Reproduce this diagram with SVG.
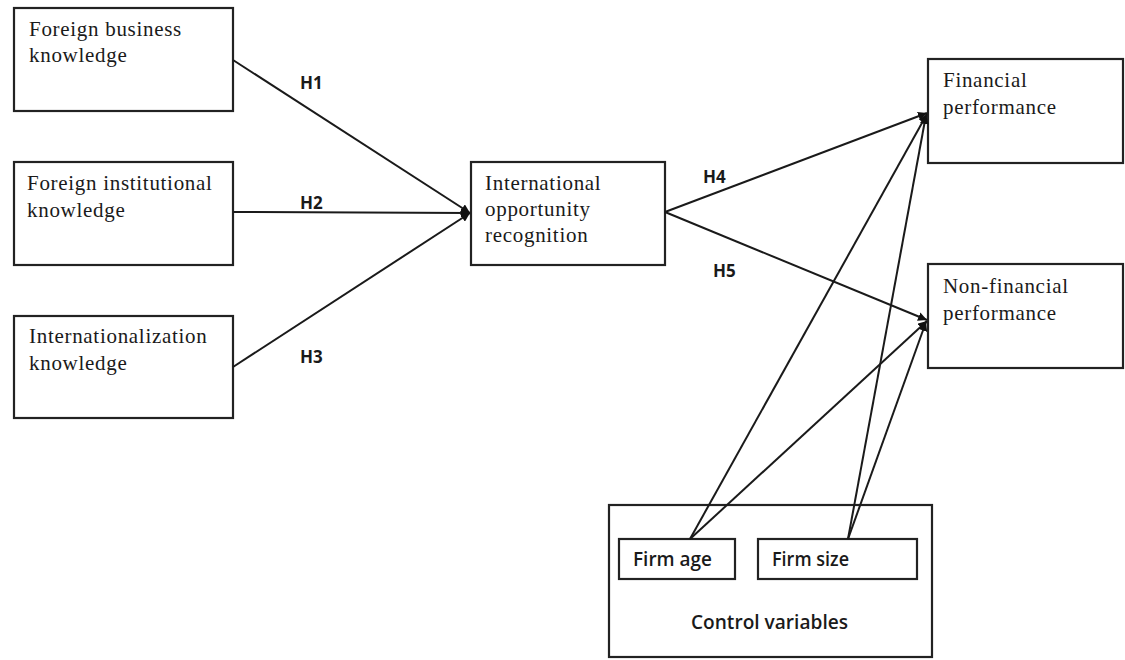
<svg xmlns="http://www.w3.org/2000/svg" width="1125" height="660" viewBox="0 0 1125 660">
<style>
.box{fill:#fff;stroke:#222;stroke-width:2.2}
.t{font-family:"Liberation Serif","Times New Roman",serif;font-size:21px;letter-spacing:0.7px;fill:#1a1a1a}
.s{font-family:"Open Sans","Liberation Sans",sans-serif;font-weight:600;font-size:20px;fill:#1a1a1a}
.h{font-family:"Open Sans","Liberation Sans",sans-serif;font-weight:700;font-size:17px;fill:#1a1a1a}
.c{stroke:#1a1a1a;stroke-width:2;fill:none}
</style>
<defs>
<marker id="ah" viewBox="0 0 10 10" refX="10" refY="5" markerWidth="9" markerHeight="9" markerUnits="userSpaceOnUse" orient="auto">
<path d="M0,0 L10,5 L0,10 z" fill="#111"/>
</marker>
</defs>
<rect width="1125" height="660" fill="#fff"/>
<g id="n1"><rect class="box" x="14" y="8" width="219" height="103"/><text class="t" x="29" y="36">Foreign business</text><text class="t" x="29" y="62">knowledge</text></g>
<g id="n2"><rect class="box" x="14" y="162" width="219" height="103"/><text class="t" x="27" y="190">Foreign institutional</text><text class="t" x="27" y="217">knowledge</text></g>
<g id="n3"><rect class="box" x="14" y="316" width="219" height="102"/><text class="t" x="29" y="343">Internationalization</text><text class="t" x="29" y="370">knowledge</text></g>
<g id="n4"><rect class="box" x="471" y="162" width="194" height="103"/><text class="t" x="485" y="190">International</text><text class="t" x="485" y="216">opportunity</text><text class="t" x="485" y="242">recognition</text></g>
<g id="n5"><rect class="box" x="928" y="59" width="195" height="104"/><text class="t" x="943" y="87">Financial</text><text class="t" x="943" y="114">performance</text></g>
<g id="n6"><rect class="box" x="928" y="264" width="195" height="104"/><text class="t" x="943" y="293">Non-financial</text><text class="t" x="943" y="320">performance</text></g>
<g id="n7"><rect class="box" x="609" y="505" width="323" height="152"/><text class="s" x="691" y="629" textLength="157" lengthAdjust="spacingAndGlyphs">Control variables</text></g>
<g id="n8"><rect class="box" x="619" y="539" width="116" height="40"/><text class="s" x="633" y="566" textLength="79" lengthAdjust="spacingAndGlyphs">Firm age</text></g>
<g id="n9"><rect class="box" x="758" y="539" width="159" height="40"/><text class="s" x="772" y="566" textLength="77" lengthAdjust="spacingAndGlyphs">Firm size</text></g>
<g id="labels">
<text class="h" x="300" y="89">H1</text>
<text class="h" x="300" y="209">H2</text>
<text class="h" x="300" y="363">H3</text>
<text class="h" x="703" y="183">H4</text>
<text class="h" x="713" y="277">H5</text>
</g>
<g id="connectors">
<line class="c" x1="233" y1="60" x2="470" y2="213" marker-end="url(#ah)"/>
<line class="c" x1="233" y1="212" x2="470" y2="213" marker-end="url(#ah)"/>
<line class="c" x1="233" y1="367" x2="470" y2="213" marker-end="url(#ah)"/>
<line class="c" x1="665" y1="212" x2="927" y2="113" marker-end="url(#ah)"/>
<line class="c" x1="665" y1="212" x2="927" y2="320" marker-end="url(#ah)"/>
<line class="c" x1="690" y1="539" x2="927" y2="114" marker-end="url(#ah)"/>
<line class="c" x1="690" y1="539" x2="927" y2="321" marker-end="url(#ah)"/>
<line class="c" x1="848" y1="539" x2="926" y2="115" marker-end="url(#ah)"/>
<line class="c" x1="848" y1="539" x2="926" y2="322" marker-end="url(#ah)"/>
</g>
</svg>
